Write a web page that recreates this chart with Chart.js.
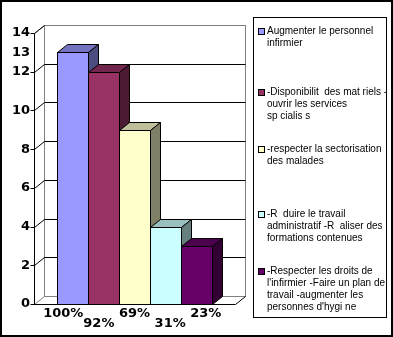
<!DOCTYPE html>
<html lang="fr">
<head>
<meta charset="UTF-8">
<title>Actions proposées</title>
<script src="https://cdn.jsdelivr.net/npm/chart.js"></script>
<style>
    body { margin: 0; background: #fff; font-family: Arial, "Liberation Sans", sans-serif; }
    .frame { position: relative; width: 393px; height: 337px; overflow: hidden; }
    .frame canvas { position: absolute; left: 0; top: 0; }
    .border { position: absolute; left: 0; top: 0; width: 393px; height: 337px; box-sizing: border-box; border: 2px solid #000; pointer-events: none; }
    .legend { position: absolute; left: 253px; top: 17px; width: 134px; height: 301px; box-sizing: border-box; border: 1px solid #000; background: #fff; }
    .legend-item { position: absolute; left: 2px; right: 0; padding-left: 11px; font-size: 10px; line-height: 12px; color: #000; white-space: pre; }
    .legend-item .swatch { position: absolute; left: 2px; top: 3px; width: 7px; height: 7px; box-sizing: border-box; border: 1px solid #000; }
</style>
</head>
<body>
<div class="frame">
    <canvas id="chart" width="393" height="337"></canvas>
    <div class="legend" id="legend"></div>
    <div class="border"></div>
</div>

<script>
// data
const legendLines = [
    ['Augmenter le personnel', 'infirmier'],
    ['-Disponibilit  des mat riels -', 'ouvrir les services', 'sp cialis s'],
    ['-respecter la sectorisation', 'des malades'],
    ['-R  duire le travail', 'administratif -R  aliser des', 'formations contenues'],
    ['-Respecter les droits de', "l'infirmier -Faire un plan de", 'travail -augmenter les', "personnes d'hygi ne"]
];
const values = [13, 12, 9, 4, 3];
const percentLabels = ['100%', '92%', '69%', '31%', '23%'];
const gridValues = [0, 2, 4, 6, 8, 10, 12, 14];
const tickLabels = [0, 2, 4, 6, 8, 10, 12, 13, 14];

const barColors = ['#9999FF', '#993366', '#FFFFCC', '#CCFFFF', '#660066'];
const legendTops = [7, 68, 125, 190, 247];

// 3d depth of the excel style box
const depthX = 10, depthY = 8;

function shade(hex, f) {
    const n = parseInt(hex.slice(1), 16);
    const r = Math.round(((n >> 16) & 255) * f);
    const g = Math.round(((n >> 8) & 255) * f);
    const b = Math.round((n & 255) * f);
    return `rgb(${r},${g},${b})`;
}

function line(ctx, x1, y1, x2, y2) {
    ctx.beginPath();
    ctx.moveTo(x1, y1);
    ctx.lineTo(x2, y2);
    ctx.stroke();
}

// back wall, gridlines and the left wall ticks
const wallPlugin = {
    id: 'wall',
    beforeDatasetsDraw(chart) {
        const { ctx, chartArea: a, scales: { y } } = chart;
        const L = Math.round(a.left) + 0.5, R = Math.round(a.right) + 0.5;
        const T = Math.round(a.top) + 0.5, B = Math.round(a.bottom) + 0.5;
        ctx.save();
        ctx.lineWidth = 1;

        // wall border
        ctx.strokeStyle = '#808080';
        ctx.strokeRect(L + depthX, T - depthY, R - L, B - T);
        line(ctx, L, T, L + depthX, T - depthY);
        line(ctx, L, B, L + depthX, B - depthY);

        // gridlines on the back wall
        ctx.strokeStyle = '#000';
        gridValues.forEach(v => {
            const py = Math.round(y.getPixelForValue(v)) + 0.5;
            if (v > 0 && v < 14) line(ctx, L + depthX, py - depthY, R + depthX, py - depthY);
            if (v > 0) line(ctx, L, py, L + depthX, py - depthY);
            line(ctx, L - 4, py, L, py);
        });

        // axis + floor front edge
        line(ctx, L, T, L, B);
        line(ctx, L, B, R, B);
        line(ctx, R, B, R + depthX, B - depthY);
        ctx.restore();
    }
};

// redraw every bar as a box: front, top, side, left to right
const boxPlugin = {
    id: 'boxes',
    afterDatasetsDraw(chart) {
        const ctx = chart.ctx;
        ctx.save();
        ctx.lineWidth = 1;
        ctx.strokeStyle = '#000';
        chart.data.datasets.forEach((ds, i) => {
            const el = chart.getDatasetMeta(i).data[0];
            const l = Math.round(el.x - el.width / 2) + 0.5;
            const r = Math.round(el.x + el.width / 2) + 0.5;
            const t = Math.round(el.y) + 0.5;
            const b = Math.round(el.base) + 0.5;
            const col = ds.backgroundColor;

            ctx.fillStyle = col;
            ctx.fillRect(l, t, r - l, b - t);
            ctx.strokeRect(l, t, r - l, b - t);

            ctx.beginPath();
            ctx.moveTo(l, t);
            ctx.lineTo(l + depthX, t - depthY);
            ctx.lineTo(r + depthX, t - depthY);
            ctx.lineTo(r, t);
            ctx.closePath();
            ctx.fillStyle = shade(col, 0.75);
            ctx.fill();
            ctx.stroke();

            ctx.beginPath();
            ctx.moveTo(r, t);
            ctx.lineTo(r + depthX, t - depthY);
            ctx.lineTo(r + depthX, b - depthY);
            ctx.lineTo(r, b);
            ctx.closePath();
            ctx.fillStyle = shade(col, 0.5);
            ctx.fill();
            ctx.stroke();
        });
        ctx.restore();
    }
};

// percentage labels under the bars, staggered on two rows
const percentPlugin = {
    id: 'percents',
    afterDraw(chart) {
        const { ctx, chartArea: a } = chart;
        const cx = (a.left + a.right) / 2;
        ctx.save();
        ctx.font = "bold 13px 'DejaVu Sans'";
        ctx.fillStyle = '#000';
        ctx.textAlign = 'center';
        ctx.textBaseline = 'middle';
        percentLabels.forEach((txt, i) => {
            const el = chart.getDatasetMeta(i).data[0];
            const x = cx + (el.x - cx) * 1.15;
            ctx.fillText(txt, x, a.bottom + (i % 2 ? 20 : 10));
        });
        ctx.restore();
    }
};

new Chart(document.getElementById('chart'), {
    type: 'bar',
    data: {
        labels: [''],
        datasets: legendLines.map((lines, i) => ({
            label: lines.join(' '),
            data: [values[i]],
            backgroundColor: barColors[i],
            borderColor: '#000',
            borderWidth: 1
        }))
    },
    options: {
        responsive: false,
        animation: false,
        events: [],
        layout: { padding: { left: 0, top: 33, right: 158, bottom: 33 } },
        datasets: { bar: { categoryPercentage: 0.771, barPercentage: 1 } },
        plugins: { legend: { display: false }, tooltip: { enabled: false } },
        scales: {
            x: { display: false },
            y: {
                min: 0,
                max: 14,
                afterFit(scale) { scale.width = 34; },
                afterBuildTicks(scale) { scale.ticks = tickLabels.map(v => ({ value: v })); },
                grid: { display: false, drawTicks: false },
                border: { display: false },
                ticks: {
                    padding: 4,
                    color: '#000',
                    font: { family: 'DejaVu Sans', size: 13, weight: 'bold' }
                }
            }
        }
    },
    plugins: [wallPlugin, boxPlugin, percentPlugin]
});

// legend box
const legend = document.getElementById('legend');
legendLines.forEach((lines, i) => {
    const item = document.createElement('div');
    item.className = 'legend-item';
    item.style.top = legendTops[i] + 'px';
    const sw = document.createElement('span');
    sw.className = 'swatch';
    sw.style.background = barColors[i];
    item.appendChild(sw);
    item.appendChild(document.createTextNode(lines.join('\n')));
    legend.appendChild(item);
});
</script>
</body>
</html>
